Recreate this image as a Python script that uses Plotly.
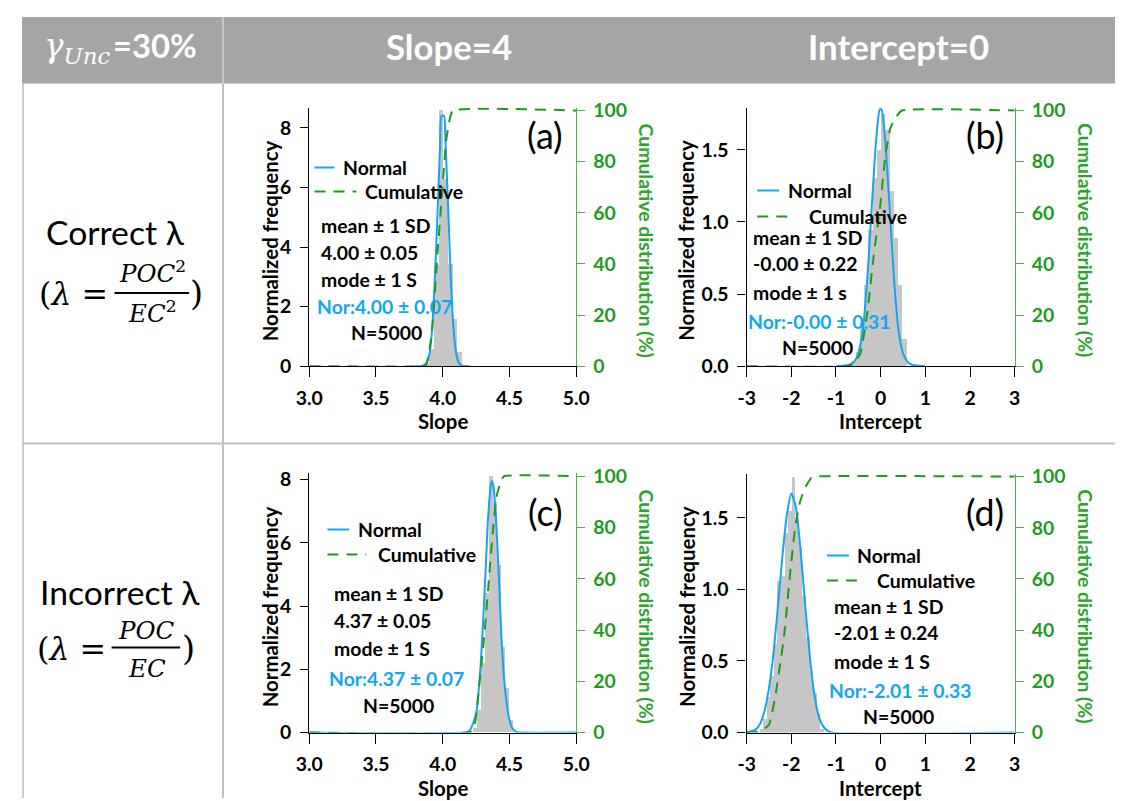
import plotly.graph_objects as go

# ---------------- data ----------------
# (a) Slope, correct lambda
a_bin_x = [3.885, 3.92, 3.955, 3.99, 4.025, 4.06, 4.095, 4.13]
a_bin_y = [0.1, 0.6, 3.4, 8.6, 6.3, 3.45, 1.6, 0.5]
a_norm_x = [3.80, 3.84, 3.86, 3.88, 3.90, 3.92, 3.94, 3.96, 3.98, 3.99, 4.01, 4.02, 4.04, 4.06, 4.08, 4.10, 4.12, 4.14, 4.16, 4.20]
a_norm_y = [0, 0.01, 0.04, 0.12, 0.4, 1.2, 2.8, 5.0, 7.4, 8.4, 8.4, 7.6, 5.4, 3.0, 1.3, 0.45, 0.12, 0.03, 0.01, 0]
a_cum_x = [3.0, 3.80, 3.875, 3.918, 3.962, 4.0, 4.025, 4.05, 4.075, 5.0]
a_cum_y = [0, 0, 0.5, 13, 45, 71, 88, 96, 100, 100]

# (b) Intercept, correct lambda
b_bin_x = [-0.615, -0.52, -0.425, -0.33, -0.235, -0.14, -0.045, 0.05, 0.145, 0.24, 0.335, 0.43, 0.525]
b_bin_y = [0.04, 0.1, 0.3, 0.57, 0.95, 1.31, 1.5, 1.75, 1.64, 1.22, 0.89, 0.57, 0.19]
b_norm_x = [-1.0, -0.8, -0.7, -0.6, -0.5, -0.4, -0.3, -0.2, -0.1, -0.02, 0.02, 0.1, 0.2, 0.3, 0.4, 0.5, 0.6, 0.7, 0.8, 1.0]
b_norm_y = [0, 0.005, 0.01, 0.03, 0.09, 0.25, 0.6, 1.1, 1.57, 1.78, 1.78, 1.57, 1.1, 0.6, 0.25, 0.09, 0.03, 0.01, 0.005, 0]
b_cum_x = [-3.0, -0.75, -0.6, -0.454, -0.305, -0.157, -0.008, 0.103, 0.215, 0.326, 0.474, 3.0]
b_cum_y = [0, 0, 1, 5, 20, 43, 63, 82, 93, 97, 100, 100]

# (c) Slope, incorrect lambda
c_bin_x = [4.245, 4.275, 4.305, 4.335, 4.365, 4.395, 4.425, 4.455, 4.485, 4.515]
c_bin_y = [0.15, 0.7, 2.2, 4.4, 8.1, 7.3, 5.3, 2.7, 1.4, 0.4]
c_norm_x = [3.0, 4.15, 4.20, 4.25, 4.28, 4.30, 4.32, 4.34, 4.36, 4.37, 4.38, 4.40, 4.42, 4.44, 4.46, 4.48, 4.50, 4.52, 4.55, 4.60, 5.0]
c_norm_y = [0, 0, 0.05, 0.6, 1.9, 3.3, 5.0, 6.8, 7.8, 7.95, 7.8, 6.7, 5.0, 3.0, 1.7, 0.9, 0.4, 0.15, 0.02, 0, 0]
c_cum_x = [3.0, 4.20, 4.236, 4.273, 4.31, 4.348, 4.378, 4.403, 4.435, 4.46, 5.0]
c_cum_y = [0, 0, 2, 18, 37, 61, 80, 92, 98, 100, 100]

# (d) Intercept, incorrect lambda
d_bin_x = [-2.68, -2.60, -2.52, -2.44, -2.36, -2.28, -2.20, -2.12, -2.04, -1.96, -1.88, -1.80, -1.72, -1.64, -1.56, -1.48, -1.40, -1.32]
d_bin_y = [0.03, 0.10, 0.25, 0.40, 0.62, 1.06, 1.10, 1.40, 1.55, 1.79, 1.49, 1.30, 0.96, 0.67, 0.43, 0.28, 0.13, 0.03]
d_norm_x = [-3.0, -2.9, -2.8, -2.7, -2.6, -2.5, -2.4, -2.3, -2.2, -2.1, -2.0, -1.9, -1.8, -1.7, -1.6, -1.5, -1.4, -1.3, -1.2, -1.1, 3.0]
d_norm_y = [0.0, 0.01, 0.02, 0.06, 0.15, 0.31, 0.55, 0.88, 1.23, 1.52, 1.67, 1.58, 1.30, 0.93, 0.58, 0.30, 0.13, 0.05, 0.015, 0, 0]
d_cum_x = [-3.0, -2.7, -2.5, -2.35, -2.16, -2.01, -1.9, -1.79, -1.68, -1.55, -1.45, 3.0]
d_cum_y = [0, 0.5, 3, 15, 38, 65, 82, 91, 96, 99.5, 100, 100]

bin_widths = {"a": 0.035, "b": 0.095, "c": 0.03, "d": 0.08}

stats = {
    "a": ["mean ± 1 SD", "4.00 ± 0.05", "mode ± 1 S", "Nor:4.00 ± 0.07", "N=5000"],
    "b": ["mean ± 1 SD", "-0.00 ± 0.22", "mode ± 1 s", "Nor:-0.00 ± 0.31", "N=5000"],
    "c": ["mean ± 1 SD", "4.37 ± 0.05", "mode ± 1 S", "Nor:4.37 ± 0.07", "N=5000"],
    "d": ["mean ± 1 SD", "-2.01 ± 0.24", "mode ± 1 S", "Nor:-2.01 ± 0.33", "N=5000"],
}

slope_ticks = [3.0, 3.5, 4.0, 4.5, 5.0]
slope_tick_text = ["3.0", "3.5", "4.0", "4.5", "5.0"]
int_ticks = [-3, -2, -1, 0, 1, 2, 3]
int_tick_text = ["-3", "-2", "-1", "0", "1", "2", "3"]
slope_freq_ticks = [0, 2, 4, 6, 8]
int_freq_ticks = [0, 0.5, 1.0, 1.5]
int_freq_text = ["0.0", "0.5", "1.0", "1.5"]
cum_ticks = [0, 20, 40, 60, 80, 100]

# ---------------- styling ----------------
W, H = 1123, 801
# the page is photographed with a slight shrink and offset; positions below are
# given in target-picture pixels and mapped back into the figure
SX, OX = 0.98, 19.0
SY, OY = 0.975, 16.5
FS = 1.0 / 0.978
BLUE = "#12A6F2"
GREEN = "#1E9A1E"
GREEN_AX = "#4CB24C"
BAR = "#C6C6C6"
FONT = "Lato"
EXTRA = 3  # px of headroom above the 100 % line so the dashed line is not clipped

def px(x):
    return ((x - OX) / SX) / W

def py(y):
    return 1 - ((y - OY) / SY) / H

def fs(s):
    return round(s * FS, 1)

fig = go.Figure()

panels = {
    "a": ("x", "y", "y2", (307.7, 576.0), (365.7, 110.0), 8.58),
    "b": ("x2", "y3", "y4", (747.3, 1016.7), (365.7, 110.0), 1.773),
    "c": ("x3", "y5", "y6", (307.7, 576.0), (732.0, 475.7), 8.11),
    "d": ("x4", "y7", "y8", (747.3, 1016.7), (732.0, 476.0), 1.789),
}
data = {
    "a": (a_bin_x, a_bin_y, a_norm_x, a_norm_y, a_cum_x, a_cum_y),
    "b": (b_bin_x, b_bin_y, b_norm_x, b_norm_y, b_cum_x, b_cum_y),
    "c": (c_bin_x, c_bin_y, c_norm_x, c_norm_y, c_cum_x, c_cum_y),
    "d": (d_bin_x, d_bin_y, d_norm_x, d_norm_y, d_cum_x, d_cum_y),
}
ytitle_offset = {"a": 39.5, "b": 60.5, "c": 39.5, "d": 60.5}

tickfont_k = dict(family=FONT, size=fs(19), color="black", weight="bold")
tickfont_g = dict(family=FONT, size=fs(19), color=GREEN, weight="bold")

for key, (xa, ya, yb, (x0, x1), (yb0, yt), ymax) in panels.items():
    bx, by, nx, ny, cx, cy = data[key]
    fig.add_trace(go.Bar(x=bx, y=by, width=bin_widths[key], marker=dict(color=BAR, line=dict(width=0)),
                         xaxis=xa, yaxis=ya, showlegend=False, hoverinfo="skip"))
    fig.add_trace(go.Scatter(x=nx, y=ny, mode="lines", line=dict(color=BLUE, width=2, shape="spline", smoothing=0.6),
                             xaxis=xa, yaxis=ya, showlegend=False))
    fig.add_trace(go.Scatter(x=cx, y=cy, mode="lines", line=dict(color=GREEN, width=2, dash="11px,8px", shape="spline", smoothing=0.4),
                             xaxis=xa, yaxis=yb, showlegend=False))

    is_slope = key in ("a", "c")
    xname = "xaxis" + xa[1:]
    yname = "yaxis" + ya[1:]
    y2name = "yaxis" + yb[1:]
    hpx = yb0 - yt
    ytop = yt - EXTRA
    lmax = ymax * (hpx + EXTRA) / hpx
    rmax = 100 * (hpx + EXTRA) / hpx
    fig.update_layout(**{
        xname: dict(domain=[px(x0), px(x1)], anchor=ya,
                    range=[3, 5] if is_slope else [-3, 3],
                    tickvals=slope_ticks if is_slope else int_ticks,
                    ticktext=slope_tick_text if is_slope else int_tick_text,
                    showline=True, linecolor="black", linewidth=1.3,
                    ticks="outside", ticklen=10, tickwidth=1.3, tickcolor="black",
                    showgrid=False, zeroline=False, tickfont=tickfont_k, ticklabelstandoff=4),
        yname: dict(domain=[py(yb0), py(ytop)], anchor=xa, range=[0, lmax],
                    tickvals=slope_freq_ticks if is_slope else int_freq_ticks,
                    ticktext=[str(v) for v in slope_freq_ticks] if is_slope else int_freq_text,
                    showline=True, linecolor="black", linewidth=1.3,
                    ticks="outside", ticklen=8, tickwidth=1.3, tickcolor="black",
                    showgrid=False, zeroline=False, tickfont=tickfont_k, ticklabelstandoff=5),
        y2name: dict(overlaying=ya, side="right", anchor=xa, range=[0, rmax],
                     tickvals=cum_ticks, showline=True, linecolor=GREEN_AX, linewidth=1.3,
                     ticks="outside", ticklen=8, tickwidth=1.3, tickcolor=GREEN_AX,
                     showgrid=False, zeroline=False, tickfont=tickfont_g, ticklabelstandoff=4),
    })

annotations = []
shapes = []

def txt(x, y, s, size=19, color="black", family=FONT, xanchor="center", yanchor="middle", angle=0, bold=True):
    annotations.append(dict(x=px(x), y=py(y), xref="paper", yref="paper", text=s, showarrow=False,
                            xanchor=xanchor, yanchor=yanchor, textangle=angle,
                            font=dict(family=family, size=fs(size), color=color, weight="bold" if bold else "normal")))

# axis titles
for key, (xa, ya, yb, (x0, x1), (yb0, yt), ymax) in panels.items():
    is_slope = key in ("a", "c")
    xc = (x0 + x1) / 2
    txt(xc, yb0 + 55, "Slope" if is_slope else "Intercept", size=20)
    txt(x0 - ytitle_offset[key], (yb0 + yt) / 2 + 2, "Normalized frequency", size=20, angle=-90)
    txt(x1 + 71, (yb0 + yt) / 2 + 2, "Cumulative distribution (%)", size=19, color="#2AA52A", angle=90)

# panel letters
txt(545, 135, "(a)", size=35, bold=False)
txt(987, 135, "(b)", size=35, bold=False)
txt(545, 512, "(c)", size=35, bold=False)
txt(987, 512, "(d)", size=35, bold=False)

# in-panel legends and statistics
legend_pos = {
    "a": dict(lx=313, lx1=333, ny=167, dx1=355, dy=191, ntx=340, ctx=362, sx=318, nx=313, nnx=348, ys=[225, 252, 279, 306, 332]),
    "b": dict(lx=758, lx1=780, ny=190, dx1=795, dy=216, ntx=787, ctx=808, sx=752, nx=747, nnx=781, ys=[237, 263, 292, 321, 347]),
    "c": dict(lx=326, lx1=348, ny=529, dx1=365, dy=554, ntx=355, ctx=375, sx=331, nx=326, nnx=360, ys=[593, 620, 648, 678, 705]),
    "d": dict(lx=828, lx1=850, ny=555, dx1=865, dy=580, ntx=856, ctx=876, sx=833, nx=828, nnx=862, ys=[606, 632, 661, 690, 716]),
}
for key, p in legend_pos.items():
    shapes.append(dict(type="line", xref="paper", yref="paper", x0=px(p["lx"]), x1=px(p["lx1"]),
                       y0=py(p["ny"]), y1=py(p["ny"]), line=dict(color=BLUE, width=2)))
    shapes.append(dict(type="line", xref="paper", yref="paper", x0=px(p["lx"]), x1=px(p["dx1"]),
                       y0=py(p["dy"]), y1=py(p["dy"]), line=dict(color=GREEN, width=2, dash="11px,8px")))
    txt(p["ntx"], p["ny"], "Normal", xanchor="left")
    txt(p["ctx"], p["dy"], "Cumulative", xanchor="left")
    s = stats[key]
    txt(p["sx"], p["ys"][0], s[0], xanchor="left")
    txt(p["sx"], p["ys"][1], s[1], xanchor="left")
    txt(p["sx"], p["ys"][2], s[2], xanchor="left")
    txt(p["nx"], p["ys"][3], s[3], xanchor="left", color=BLUE)
    txt(p["nnx"], p["ys"][4], s[4], xanchor="left")

# ---------------- table frame ----------------
HEAD = "#A5A5A5"
LINE = "#C0C0C0"
shapes.insert(0, dict(type="rect", xref="paper", yref="paper", x0=max(px(5), 0), x1=1, y0=py(83), y1=min(py(5), 1),
                      fillcolor=HEAD, line=dict(width=0), layer="below"))
shapes.append(dict(type="line", xref="paper", yref="paper", x0=px(221), x1=px(221), y0=py(83), y1=1,
                   line=dict(color="#D4D4D4", width=1.5)))
shapes.append(dict(type="line", xref="paper", yref="paper", x0=px(221), x1=px(221), y0=py(83), y1=0,
                   line=dict(color=LINE, width=2)))
shapes.append(dict(type="line", xref="paper", yref="paper", x0=0.001, x1=0.001, y0=py(83), y1=0,
                   line=dict(color=LINE, width=1.5)))
shapes.append(dict(type="line", xref="paper", yref="paper", x0=0, x1=1, y0=py(443), y1=py(443),
                   line=dict(color=LINE, width=2)))

# header
txt(110, 47, "<i>γ</i><sub><i>Unc</i></sub>", size=32, color="white", family="DejaVu Serif", xanchor="right", bold=False)
txt(108, 45, "=30%", size=32, color="white", xanchor="left")
txt(448, 46, "Slope=4", size=34, color="white")
txt(900, 46, "Intercept=0", size=34, color="white")

# row labels
MATH = "DejaVu Serif"
txt(113, 231, "Correct λ", size=33, bold=False)
txt(107, 293, "(<i>λ</i> =", size=31, family=MATH, xanchor="right", bold=False)
txt(150, 271, "<i>POC</i><sup>2</sup>", size=24, family=MATH, bold=False)
txt(150, 311, "<i>EC</i><sup>2</sup>", size=24, family=MATH, bold=False)
shapes.append(dict(type="line", xref="paper", yref="paper", x0=px(112), x1=px(187), y0=py(292.5), y1=py(292.5),
                   line=dict(color="black", width=2.2)))
txt(186, 293, ")", size=33, family=MATH, xanchor="left", bold=False)

txt(117, 591, "Incorrect λ", size=33, bold=False)
txt(105, 648, "(<i>λ</i> =", size=31, family=MATH, xanchor="right", bold=False)
txt(144, 630, "<i>POC</i>", size=24, family=MATH, bold=False)
txt(145, 668, "<i>EC</i>", size=24, family=MATH, bold=False)
shapes.append(dict(type="line", xref="paper", yref="paper", x0=px(109), x1=px(178), y0=py(647), y1=py(647),
                   line=dict(color="black", width=2.2)))
txt(178, 648, ")", size=33, family=MATH, xanchor="left", bold=False)

fig.update_layout(width=W, height=H, autosize=False, margin=dict(l=0, r=0, t=0, b=0),
                  paper_bgcolor="white", plot_bgcolor="rgba(0,0,0,0)", showlegend=False,
                  bargap=0, annotations=annotations, shapes=shapes)

fig.write_html("out.html", config={"displayModeBar": False})
